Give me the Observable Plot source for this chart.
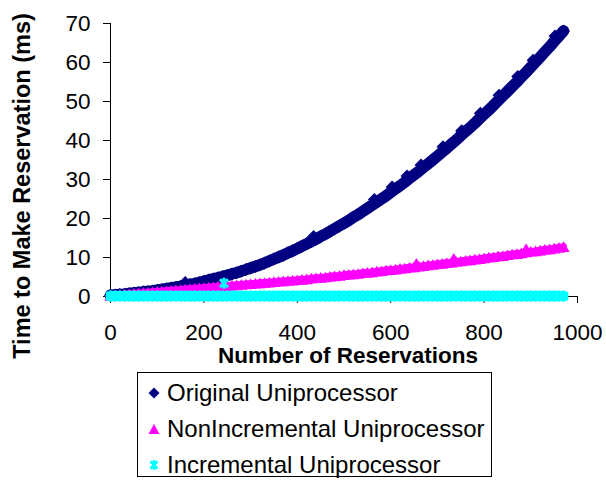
<!DOCTYPE html>
<html>
<head>
<meta charset="utf-8">
<script src="https://cdn.jsdelivr.net/npm/d3@7"></script>
<script src="https://cdn.jsdelivr.net/npm/@observablehq/plot@0.6"></script>
<style>
  html, body { margin: 0; padding: 0; background: #fff; }
  #wrap { position: relative; width: 606px; height: 481px; font-family: Arial, "Liberation Sans", sans-serif; color: #000; }
  #legend { position: absolute; left: 137px; top: 372px; width: 353px; height: 103px; border: 1px solid #000; background: #fff; }
  .row { position: absolute; left: 0; height: 30px; line-height: 30px; font-size: 24px; white-space: nowrap; }
  .row svg { position: absolute; left: 9px; top: 8px; }
  .row span { position: absolute; left: 29px; top: 0; }
</style>
</head>
<body>
<div id="wrap"><div id="chart"></div><div id="legend"></div></div>
<script>
// Sample positions (number of reservations)
const reservations = d3.range(0, 980, 10);

// Time to make a reservation (ms) at each sample position
const original = [
  0.3, 0.4, 0.5, 0.6, 0.8, 0.9, 1.0, 1.2, 1.3, 1.4,
  1.6, 1.8, 2.0, 2.2, 2.4, 2.6, 2.8, 3.1, 3.3, 3.6,
  3.9, 4.2, 4.5, 4.8, 5.1, 5.4, 5.8, 6.1, 6.5, 6.9,
  7.3, 7.7, 8.1, 8.6, 9.1, 9.6, 10.1, 10.6, 11.2, 11.7,
  12.3, 12.9, 13.5, 14.1, 14.7, 15.4, 16.0, 16.7, 17.4, 18.1,
  18.8, 19.5, 20.3, 21.0, 21.8, 22.6, 23.4, 24.2, 25.0, 25.8,
  26.7, 27.6, 28.4, 29.3, 30.3, 31.2, 32.1, 33.1, 34.0, 35.0,
  36.0, 37.0, 38.0, 39.1, 40.1, 41.2, 42.3, 43.3, 44.4, 45.6,
  46.7, 47.8, 49.0, 50.2, 51.4, 52.6, 53.8, 55.0, 56.3, 57.5,
  58.8, 60.1, 61.4, 62.7, 64.0, 65.4, 66.7, 68.1
];
const nonIncremental = [
  0.3, 0.4, 0.5, 0.6, 0.7, 0.8, 0.9, 1.0, 1.1, 1.2,
  1.3, 1.4, 1.5, 1.6, 1.7, 1.8, 1.9, 2.0, 2.1, 2.2,
  2.3, 2.4, 2.5, 2.6, 2.7, 2.8, 2.9, 3.0, 3.1, 3.2,
  3.3, 3.4, 3.5, 3.6, 3.7, 3.8, 3.9, 4.0, 4.1, 4.2,
  4.3, 4.4, 4.5, 4.7, 4.8, 4.9, 5.0, 5.2, 5.3, 5.4,
  5.6, 5.7, 5.8, 5.9, 6.1, 6.2, 6.3, 6.5, 6.6, 6.8,
  6.9, 7.0, 7.2, 7.3, 7.5, 7.6, 7.8, 7.9, 8.1, 8.2,
  8.4, 8.5, 8.7, 8.8, 9.0, 9.1, 9.3, 9.4, 9.6, 9.7,
  9.9, 10.1, 10.2, 10.4, 10.5, 10.7, 10.9, 11.0, 11.2, 11.4,
  11.6, 11.7, 11.9, 12.1, 12.2, 12.4, 12.6, 12.8
];
const incremental = [
  0.1, 0.1, 0.1, 0.1, 0.1, 0.1, 0.1, 0.1, 0.1, 0.1,
  0.1, 0.1, 0.1, 0.1, 0.1, 0.1, 0.1, 0.1, 0.1, 0.1,
  0.1, 0.1, 0.1, 0.1, 0.1, 0.1, 0.1, 0.1, 0.1, 0.1,
  0.1, 0.1, 0.1, 0.1, 0.1, 0.1, 0.1, 0.1, 0.1, 0.1,
  0.1, 0.1, 0.1, 0.1, 0.1, 0.1, 0.1, 0.1, 0.1, 0.1,
  0.1, 0.1, 0.1, 0.1, 0.1, 0.1, 0.1, 0.1, 0.1, 0.1,
  0.1, 0.1, 0.1, 0.1, 0.1, 0.1, 0.1, 0.1, 0.1, 0.1,
  0.1, 0.1, 0.1, 0.1, 0.1, 0.1, 0.1, 0.1, 0.1, 0.1,
  0.1, 0.1, 0.1, 0.1, 0.1, 0.1, 0.1, 0.1, 0.1, 0.1,
  0.1, 0.1, 0.1, 0.1, 0.1, 0.1, 0.1, 0.1
];

// Occasional slow reservations
const originalSpikesN = [160, 435, 565, 603, 635, 665, 712, 752, 792, 832, 872, 905, 952];
const originalSpikesV = [3.6, 15.4, 24.9, 28.1, 30.9, 33.7, 38.4, 42.5, 47.0, 51.6, 56.4, 60.6, 66.8];
const nonIncrementalSpikesN = [655, 735, 890];
const nonIncrementalSpikesV = [8.5, 9.8, 12.3];
const incrementalSpikesN = [243];
const incrementalSpikesV = [3.4];

const seriesNames = ["Original Uniprocessor", "NonIncremental Uniprocessor", "Incremental Uniprocessor"];
const seriesColors = ["#000080", "#FF00FF", "#00FFFF"];
const xTicks = [0, 200, 400, 600, 800, 1000];
const yTicks = [0, 10, 20, 30, 40, 50, 60, 70];

const toRows = (ns, vs) => ns.map((n, i) => ({n, v: vs[i]}));

// Marker shapes: rotated square, upward triangle, star (X with a vertical bar)
const rad = size => Math.sqrt(size / Math.PI);
const diamond = {draw(ctx, size) { const r = rad(size); ctx.moveTo(0, -r); ctx.lineTo(r, 0); ctx.lineTo(0, r); ctx.lineTo(-r, 0); ctx.closePath(); }};
const triangle = {draw(ctx, size) { const r = rad(size); const h = r * 0.86; ctx.moveTo(0, -h); ctx.lineTo(r, h); ctx.lineTo(-r, h); ctx.closePath(); }};
const star = {draw(ctx, size) { const r = rad(size); const a = r * 0.72; ctx.moveTo(-a, -a); ctx.lineTo(a, a); ctx.moveTo(a, -a); ctx.lineTo(-a, a); ctx.moveTo(0, -r); ctx.lineTo(0, r); }};

// Densely packed markers merge into a band; a thick line under them keeps it solid
const series = (vals, spikesN, spikesV, i, symbol, r, band, extra) => [
  Plot.line(toRows(reservations, vals), {x: "n", y: "v", stroke: seriesColors[i], strokeWidth: band}),
  Plot.dot(toRows(reservations, vals), {x: "n", y: "v", symbol, r, ...extra}),
  Plot.dot(toRows(spikesN, spikesV), {x: "n", y: "v", symbol, r, ...extra})
];

const chart = Plot.plot({
  width: 606,
  height: 368,
  marginLeft: 110,
  marginRight: 29,
  marginTop: 23,
  marginBottom: 72,
  style: {fontFamily: "Arial, 'Liberation Sans', sans-serif", fontSize: "22.5px", color: "#000", background: "#fff", overflow: "visible"},
  x: {domain: [0, 1000], ticks: xTicks, tickFormat: d => String(d), tickSize: 7, tickPadding: 21, line: true, label: null},
  y: {domain: [0, 70], ticks: yTicks, tickFormat: d => String(d), tickSize: 7, tickPadding: 13, line: true, label: null},
  marks: [
    ...series(original, originalSpikesN, originalSpikesV, 0, diamond, 6.5, 11.5, {fill: seriesColors[0], stroke: "none"}),
    ...series(nonIncremental, nonIncrementalSpikesN, nonIncrementalSpikesV, 1, triangle, 6.2, 7, {fill: seriesColors[1], stroke: "none"}),
    ...series(incremental, incrementalSpikesN, incrementalSpikesV, 2, star, 5.6, 10, {fill: "none", stroke: seriesColors[2], strokeWidth: 3}),
    Plot.text(["Number of Reservations"], {frameAnchor: "bottom", textAnchor: "middle", lineAnchor: "middle", dx: 4, dy: 59, fontWeight: "bold", fontSize: 22.5, fill: "#000"}),
    Plot.text(["Time to Make Reservation (ms)"], {frameAnchor: "left", textAnchor: "middle", lineAnchor: "middle", rotate: -90, dx: -88, dy: 26, fontWeight: "bold", fontSize: 23.5, fill: "#000"})
  ]
});
document.getElementById("chart").appendChild(chart);

// Legend
const markerSvg = [
  '<svg width="14" height="14" viewBox="-7 -7 14 14"><path d="M0,-5.5L5.5,0L0,5.5L-5.5,0Z" fill="#000080"/></svg>',
  '<svg width="14" height="14" viewBox="-7 -7 14 14"><path d="M0,-5L5.5,5L-5.5,5Z" fill="#FF00FF"/></svg>',
  '<svg width="14" height="14" viewBox="-7 -7 14 14"><path d="M-3.6,-3.6L3.6,3.6M3.6,-3.6L-3.6,3.6M0,-5L0,5" stroke="#00FFFF" stroke-width="2.6" fill="none"/></svg>'
];
const legend = document.getElementById("legend");
const rowTops = [5, 41, 77];
seriesNames.forEach((name, i) => {
  const row = document.createElement("div");
  row.className = "row";
  row.style.top = rowTops[i] + "px";
  row.innerHTML = markerSvg[i] + "<span>" + name + "</span>";
  legend.appendChild(row);
});
</script>
</body>
</html>
